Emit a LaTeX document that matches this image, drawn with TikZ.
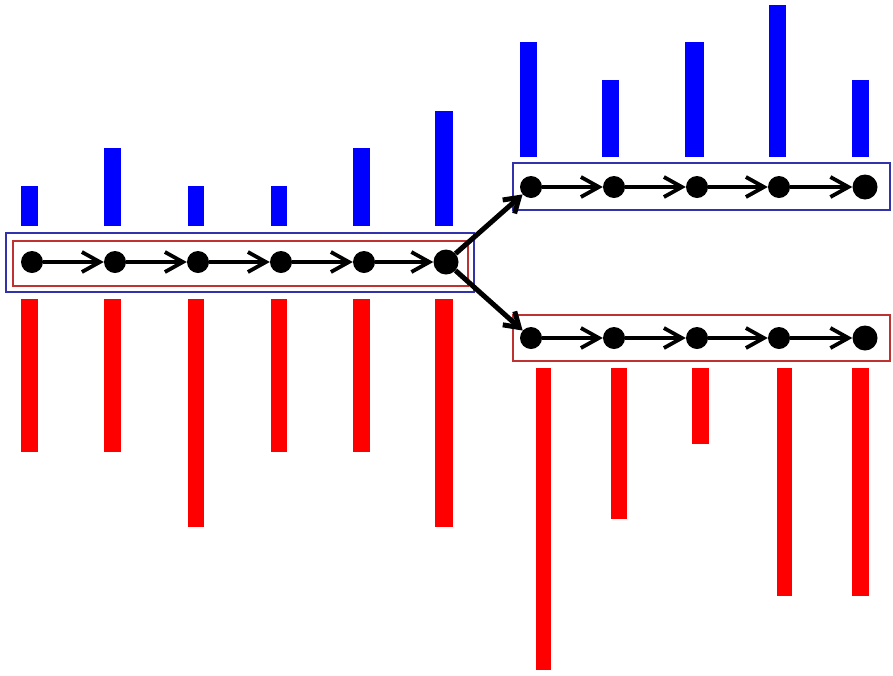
\documentclass[tikz,border=0pt]{standalone}
\usetikzlibrary{arrows.meta}
\definecolor{boxblue}{RGB}{50,50,170}
\definecolor{boxred}{RGB}{190,50,50}
\definecolor{barblue}{RGB}{0,0,255}
\definecolor{barred}{RGB}{255,0,0}
\begin{document}
\begin{tikzpicture}[x=1pt,y=-1pt,
  dot/.style={circle,fill=black,inner sep=0pt,minimum size=22pt},
  bigdot/.style={dot,minimum size=25pt},
  chainarrow/.style={line width=3.8pt,-{Straight Barb[length=18pt,width=20pt]}},
  brancharrow/.style={line width=5pt,-{Straight Barb[length=14pt,width=18pt]}},
  bluebox/.style={draw=boxblue,line width=1.8pt},
  redbox/.style={draw=boxred,line width=1.4pt},
  bluebar/.style={fill=barblue},
  redbar/.style={fill=barred}]
\useasboundingbox (0,0) rectangle (893,675);
\fill[white] (0,0) rectangle (893,675);
% bars, left chain
\foreach \xa/\xb/\top in {21/38/186,104/121/148,188/204/186,271/287/186,353/370/148,435/453/111}
  \fill[bluebar] (\xa,\top) rectangle (\xb,226);
\foreach \xa/\xb/\bot in {21/38/452,104/121/452,188/204/527,271/287/452,353/370/452,435/453/527}
  \fill[redbar] (\xa,299) rectangle (\xb,\bot);
% bars, upper right chain
\foreach \xa/\xb/\top in {520/537/42,602/619/80,685/704/42,769/786/5,852/869/80}
  \fill[bluebar] (\xa,\top) rectangle (\xb,157);
% bars, lower right chain
\foreach \xa/\xb/\bot in {536/551/670,611/627/519,692/709/444,777/792/596,852/869/596}
  \fill[redbar] (\xa,368) rectangle (\xb,\bot);
% boxes
\draw[bluebox] (6,233) rectangle (474,292);
\draw[redbox] (13,241) rectangle (468,286);
\draw[bluebox] (513,163) rectangle (890,210);
\draw[redbox] (513,315) rectangle (890,361);
% nodes
\node[dot] (a1) at (32,262) {};
\node[dot] (a2) at (115,262) {};
\node[dot] (a3) at (198,262) {};
\node[dot] (a4) at (281,262) {};
\node[dot] (a5) at (364,262) {};
\node[bigdot] (a6) at (446,262) {};
\node[dot] (b1) at (531,187) {};
\node[dot] (b2) at (614,187) {};
\node[dot] (b3) at (697,187) {};
\node[dot] (b4) at (779,187) {};
\node[bigdot] (b5) at (865,187) {};
\node[dot] (c1) at (531,338) {};
\node[dot] (c2) at (614,338) {};
\node[dot] (c3) at (697,338) {};
\node[dot] (c4) at (779,338) {};
\node[bigdot] (c5) at (865,338) {};
% connectors
\foreach \p/\q in {a1/a2,a2/a3,a3/a4,a4/a5,a5/a6,b1/b2,b2/b3,b3/b4,b4/b5,c1/c2,c2/c3,c3/c4,c4/c5}
  \draw[chainarrow] (\p) -- (\q);
\draw[brancharrow] (a6) -- (b1);
\draw[brancharrow] (a6) -- (c1);
\end{tikzpicture}
\end{document}
